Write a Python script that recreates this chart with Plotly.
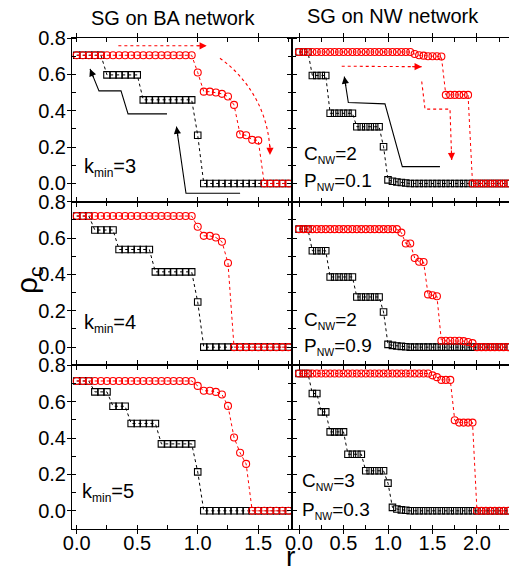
import math
import plotly.graph_objects as go
from plotly.subplots import make_subplots

# ---------------- data ----------------
r_ba = [0.00, 0.05, 0.10, 0.15, 0.20, 0.25, 0.30, 0.35, 0.40, 0.45, 0.50, 0.55,
        0.60, 0.65, 0.70, 0.75, 0.80, 0.85, 0.90, 0.95, 1.00, 1.05, 1.10, 1.15,
        1.20, 1.25, 1.30, 1.35, 1.40, 1.45, 1.50, 1.55, 1.60, 1.65, 1.70, 1.75]

r_nw = [0.00, 0.05, 0.10, 0.15, 0.20, 0.25, 0.30, 0.35, 0.40, 0.45, 0.50, 0.55,
        0.60, 0.65, 0.70, 0.75, 0.80, 0.85, 0.90, 0.95, 1.00, 1.05, 1.10, 1.15,
        1.20, 1.25, 1.30, 1.35, 1.40, 1.45, 1.50, 1.55, 1.60, 1.65, 1.70, 1.75,
        1.80, 1.85, 1.90, 1.95, 2.00, 2.05, 2.10, 2.15, 2.20, 2.25, 2.30, 2.35]

# SG on BA network, k_min = 3
ba_k3_black = [0.705, 0.705, 0.705, 0.705, 0.705, 0.597, 0.597, 0.597, 0.597, 0.597,
               0.597, 0.46, 0.46, 0.46, 0.46, 0.46, 0.46, 0.46, 0.46, 0.46,
               0.265, 0, 0, 0, 0, 0, 0, 0, 0, 0, 0, 0, 0, 0, 0, 0]
ba_k3_red = [0.705, 0.705, 0.705, 0.705, 0.705, 0.705, 0.705, 0.705, 0.705, 0.705,
             0.705, 0.705, 0.705, 0.705, 0.705, 0.705, 0.705, 0.705, 0.705, 0.705,
             0.61, 0.505, 0.505, 0.50, 0.493, 0.478, 0.432, 0.27, 0.265, 0.24,
             0.237, 0, 0, 0, 0, 0]
# k_min = 4
ba_k4_black = [0.721, 0.721, 0.721, 0.644, 0.644, 0.644, 0.644, 0.537, 0.537, 0.537,
               0.537, 0.537, 0.537, 0.414, 0.414, 0.414, 0.414, 0.414, 0.414, 0.414,
               0.248, 0, 0, 0, 0, 0, 0, 0, 0, 0, 0, 0, 0, 0, 0, 0]
ba_k4_red = [0.721, 0.721, 0.721, 0.721, 0.721, 0.721, 0.721, 0.721, 0.721, 0.721,
             0.721, 0.721, 0.721, 0.721, 0.721, 0.721, 0.721, 0.721, 0.721, 0.721,
             0.662, 0.612, 0.612, 0.603, 0.58, 0.463, 0, 0, 0, 0, 0, 0, 0, 0, 0, 0]
# k_min = 5
ba_k5_black = [0.714, 0.714, 0.714, 0.654, 0.654, 0.654, 0.575, 0.575, 0.575, 0.48,
               0.48, 0.48, 0.48, 0.48, 0.368, 0.368, 0.368, 0.368, 0.368, 0.368,
               0.214, 0, 0, 0, 0, 0, 0, 0, 0, 0, 0, 0, 0, 0, 0, 0]
ba_k5_red = [0.714, 0.714, 0.714, 0.714, 0.714, 0.714, 0.714, 0.714, 0.714, 0.714,
             0.714, 0.714, 0.714, 0.714, 0.714, 0.714, 0.714, 0.714, 0.714, 0.714,
             0.687, 0.66, 0.66, 0.654, 0.64, 0.577, 0.403, 0.319, 0.258, 0,
             0, 0, 0, 0, 0, 0]

# SG on NW network, C=2, P=0.1
nw1_black = [0.723, 0.723, 0.723, 0.594, 0.594, 0.594, 0.594, 0.386, 0.386, 0.386,
             0.386, 0.386, 0.386, 0.312, 0.312, 0.312, 0.312, 0.312, 0.312, 0.202,
             0.02, 0.012, 0.008, 0.005, 0.003, 0, 0, 0, 0, 0, 0, 0, 0, 0, 0, 0,
             0, 0, 0, 0, 0, 0, 0, 0, 0, 0, 0, 0]
nw1_red = [0.723, 0.723, 0.723, 0.723, 0.723, 0.723, 0.723, 0.723, 0.723, 0.723,
           0.723, 0.723, 0.723, 0.723, 0.723, 0.723, 0.723, 0.723, 0.723, 0.723,
           0.723, 0.723, 0.723, 0.723, 0.723, 0.723, 0.712, 0.705, 0.703, 0.70,
           0.70, 0.70, 0.698, 0.487, 0.487, 0.487, 0.487, 0.487, 0.487, 0,
           0, 0, 0, 0, 0, 0, 0, 0]
# C=2, P=0.9
nw2_black = [0.649, 0.649, 0.649, 0.53, 0.53, 0.53, 0.53, 0.386, 0.386, 0.386,
             0.386, 0.386, 0.386, 0.276, 0.276, 0.276, 0.276, 0.276, 0.276, 0.193,
             0.015, 0.01, 0.006, 0.004, 0.002, 0, 0, 0, 0, 0, 0, 0, 0, 0, 0, 0,
             0, 0, 0, 0, 0, 0, 0, 0, 0, 0, 0, 0]
nw2_red = [0.649, 0.649, 0.649, 0.649, 0.649, 0.649, 0.649, 0.649, 0.649, 0.649,
           0.649, 0.649, 0.649, 0.649, 0.649, 0.649, 0.649, 0.649, 0.649, 0.649,
           0.649, 0.649, 0.649, 0.63, 0.57, 0.57, 0.49, 0.47, 0.468, 0.29,
           0.285, 0.28, 0.035, 0.035, 0.035, 0.035, 0.035, 0.033, 0.028, 0.022,
           0, 0, 0, 0, 0, 0, 0, 0]
# C=3, P=0.3
nw3_black = [0.755, 0.755, 0.755, 0.645, 0.645, 0.544, 0.544, 0.434, 0.434, 0.434,
             0.434, 0.311, 0.311, 0.311, 0.311, 0.22, 0.22, 0.22, 0.22, 0.22,
             0.152, 0.019, 0.01, 0.005, 0.003, 0, 0, 0, 0, 0, 0, 0, 0, 0, 0, 0,
             0, 0, 0, 0, 0, 0, 0, 0, 0, 0, 0, 0]
nw3_red = [0.755, 0.755, 0.755, 0.755, 0.755, 0.755, 0.755, 0.755, 0.755, 0.755,
           0.755, 0.755, 0.755, 0.755, 0.755, 0.755, 0.755, 0.755, 0.755, 0.755,
           0.755, 0.755, 0.755, 0.755, 0.755, 0.755, 0.755, 0.755, 0.755, 0.755,
           0.745, 0.735, 0.72, 0.72, 0.72, 0.498, 0.485, 0.485, 0.485, 0.485,
           0, 0, 0, 0, 0, 0, 0, 0]

col_titles = ["SG on BA network", "SG on NW network"]
SUB_K = "<sub><span style='font-size:12px'>min</span></sub>"
SUB_NW = "<sub><span style='font-size:10.5px'>NW</span></sub>"
panel_labels = {
    (1, 1): ["k" + SUB_K + "=3"],
    (2, 1): ["k" + SUB_K + "=4"],
    (3, 1): ["k" + SUB_K + "=5"],
    (1, 2): ["C" + SUB_NW + "=2", "P" + SUB_NW + "=0.1"],
    (2, 2): ["C" + SUB_NW + "=2", "P" + SUB_NW + "=0.9"],
    (3, 2): ["C" + SUB_NW + "=3", "P" + SUB_NW + "=0.3"],
}

# ---------------- layout constants ----------------
W, H = 509, 573
ML, MR, MT, MB = 72, 0, 38, 44
LEFT_W = 220
XL_RANGE = [-0.039, 1.779]
XR_RANGE = [-0.079, 2.36]
Y_RANGE = [-0.1, 0.8]
FONT = "Liberation Sans, Arial, sans-serif"
RED = "#FF0000"

plot_w = W - ML - MR
plot_h = H - MT - MB
fig = make_subplots(rows=3, cols=2, horizontal_spacing=0, vertical_spacing=0,
                    column_widths=[LEFT_W, plot_w - LEFT_W])

panels = [
    (1, 1, r_ba, ba_k3_black, ba_k3_red),
    (2, 1, r_ba, ba_k4_black, ba_k4_red),
    (3, 1, r_ba, ba_k5_black, ba_k5_red),
    (1, 2, r_nw, nw1_black, nw1_red),
    (2, 2, r_nw, nw2_black, nw2_red),
    (3, 2, r_nw, nw3_black, nw3_red),
]

for row, col, xs, yb, yr in panels:
    fig.add_trace(go.Scatter(x=xs, y=yb, mode="lines+markers",
                             line=dict(color="black", width=1, dash="dot"),
                             marker=dict(symbol="square-open", size=6.5, color="black",
                                         line=dict(width=1.1, color="black")),
                             showlegend=False), row=row, col=col)
    fig.add_trace(go.Scatter(x=xs, y=yr, mode="lines+markers",
                             line=dict(color=RED, width=1, dash="dot"),
                             marker=dict(symbol="circle-open", size=7, color=RED,
                                         line=dict(width=1.1, color=RED)),
                             showlegend=False), row=row, col=col)

tickfont = dict(family=FONT, size=20, color="black")
for row in range(1, 4):
    for col in range(1, 3):
        fig.update_xaxes(range=XL_RANGE if col == 1 else XR_RANGE,
                         showline=True, linecolor="black", linewidth=1, mirror="ticks",
                         ticks="outside", ticklen=4, tickcolor="black", tickwidth=1,
                         dtick=0.5, tick0=0, tickformat=".1f", ticklabelstandoff=-8,
                         minor=dict(ticks="inside", dtick=0.25, ticklen=4, tickcolor="black"),
                         showgrid=False, zeroline=False,
                         showticklabels=(row == 3), tickfont=tickfont,
                         row=row, col=col)
        fig.update_yaxes(range=Y_RANGE,
                         showline=True, linecolor="black", linewidth=1,
                         mirror=("ticks" if col == 1 else False),
                         ticks="outside", ticklen=4, tickcolor="black", tickwidth=1,
                         dtick=0.2, tick0=0, tickformat=".1f", ticklabelstandoff=-3,
                         minor=dict(ticks="inside", dtick=0.1, ticklen=4, tickcolor="black"),
                         showgrid=False, zeroline=False,
                         showticklabels=(col == 1), tickfont=tickfont,
                         row=row, col=col)


def axref(row, col):
    idx = (row - 1) * 2 + col
    s = "" if idx == 1 else str(idx)
    return "x" + s, "y" + s


def px_scale(col):
    rng = XL_RANGE if col == 1 else XR_RANGE
    wpx = LEFT_W if col == 1 else plot_w - LEFT_W
    return wpx / (rng[1] - rng[0]), (plot_h / 3) / (Y_RANGE[1] - Y_RANGE[0])


def add_arrow(row, col, pts, color, dash, curve=None):
    xr, yr = axref(row, col)
    if curve is None:
        path = "M " + " L ".join(f"{x},{y}" for x, y in pts)
        (x0, y0), (x1, y1) = pts[-2], pts[-1]
    else:
        (sx0, sy0), (c1x, c1y), (c2x, c2y), (ex, ey) = curve
        path = f"M {sx0},{sy0} C {c1x},{c1y} {c2x},{c2y} {ex},{ey}"
        (x0, y0), (x1, y1) = (c2x, c2y), (ex, ey)
    fig.add_shape(type="path", path=path, xref=xr, yref=yr,
                  line=dict(color=color, width=1.1, dash=dash))
    sx, sy = px_scale(col)
    dx, dy = (x1 - x0) * sx, (y1 - y0) * sy
    L = math.hypot(dx, dy)
    back = 11.0
    ax = x1 - dx / L * back / sx
    ay = y1 - dy / L * back / sy
    fig.add_annotation(x=x1, y=y1, ax=ax, ay=ay, xref=xr, yref=yr, axref=xr, ayref=yr,
                       showarrow=True, arrowhead=2, arrowsize=1.3, arrowwidth=1.1,
                       arrowcolor=color, text="", standoff=0)


# arrows in the top panels
add_arrow(1, 1, [(0.746, 0.383), (0.424, 0.383), (0.366, 0.509), (0.184, 0.509), (0.11, 0.63)],
          "black", "solid")
add_arrow(1, 1, [(1.35, -0.054), (0.903, -0.054), (0.824, 0.313)], "black", "solid")
add_arrow(1, 1, [(0.344, 0.757), (1.074, 0.757)], RED, "dot")
add_arrow(1, 1, None, RED, "dot",
          curve=[(1.184, 0.689), (1.432, 0.570), (1.598, 0.377), (1.597, 0.157)])
add_arrow(1, 2, [(1.584, 0.0925), (1.161, 0.0925), (0.966, 0.438), (0.554, 0.445), (0.509, 0.588)],
          "black", "solid")
add_arrow(1, 2, [(0.48, 0.645), (1.379, 0.642)], RED, "dot")
add_arrow(1, 2, [(1.379, 0.561), (1.416, 0.409), (1.697, 0.409), (1.716, 0.129)], RED, "dot")

# panel labels
label_pos = {
    (1, 1): [(0.044, 0.09)],
    (2, 1): [(0.044, 0.131)],
    (3, 1): [(0.025, 0.098)],
    (1, 2): [(0.034, 0.157), (0.034, 0.01)],
    (2, 2): [(0.034, 0.144), (0.034, 0.002)],
    (3, 2): [(0.011, 0.162), (0.011, 0.0)],
}
for key, texts in panel_labels.items():
    xr, yr = axref(*key)
    fsize = 20 if key[1] == 1 else 19
    for t, (x, y) in zip(texts, label_pos[key]):
        fig.add_annotation(x=x, y=y, xref=xr, yref=yr, text=t, showarrow=False,
                           xanchor="left", yanchor="middle",
                           font=dict(family=FONT, size=fsize, color="black"))

# column titles and axis titles
fig.add_annotation(x=(173 - ML) / plot_w, y=1 + (MT - 18) / plot_h, xref="paper", yref="paper",
                   text=col_titles[0], showarrow=False, xanchor="center", yanchor="middle",
                   font=dict(family=FONT, size=20, color="black"))
fig.add_annotation(x=(393 - ML) / plot_w, y=1 + (MT - 16) / plot_h, xref="paper", yref="paper",
                   text=col_titles[1], showarrow=False, xanchor="center", yanchor="middle",
                   font=dict(family=FONT, size=20, color="black"))
fig.add_annotation(x=(28 - ML) / plot_w, y=1 - (280 - MT) / plot_h, xref="paper", yref="paper",
                   text="ρ<sub>c</sub>", textangle=-90, showarrow=False,
                   xanchor="center", yanchor="middle",
                   font=dict(family=FONT, size=30, color="black"))
fig.add_annotation(x=(290 - ML) / plot_w, y=-MB / plot_h, xref="paper", yref="paper",
                   text="r", showarrow=False, xanchor="center", yanchor="bottom",
                   borderpad=0, font=dict(family=FONT, size=28, color="black"))

fig.update_layout(width=W, height=H, margin=dict(l=ML, r=MR, t=MT, b=MB),
                  plot_bgcolor="white", paper_bgcolor="white", showlegend=False,
                  font=dict(family=FONT, color="black"))

fig.write_html("out.html", config={"displayModeBar": False},
               post_script="document.body.style.margin='0';document.body.style.overflow='hidden';")
